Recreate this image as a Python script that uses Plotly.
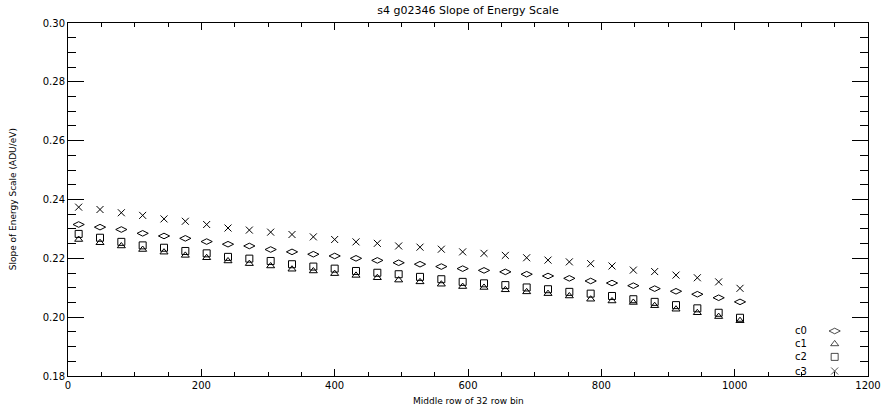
import plotly.graph_objects as go

# Middle row of each 32 row bin
rows = [16 + 32 * k for k in range(32)]

# Slope of energy scale (ADU/eV) per node
c0 = [0.2315, 0.2306, 0.2298, 0.2285, 0.2276, 0.2268, 0.2257, 0.2248,
      0.2242, 0.2230, 0.2222, 0.2214, 0.2208, 0.2200, 0.2193, 0.2185,
      0.2180, 0.2172, 0.2165, 0.2159, 0.2154, 0.2146, 0.2140, 0.2132,
      0.2123, 0.2116, 0.2107, 0.2097, 0.2088, 0.2078, 0.2066, 0.2052]
c1 = [0.2264, 0.2253, 0.2242, 0.2230, 0.2221, 0.2210, 0.2202, 0.2191,
      0.2182, 0.2174, 0.2163, 0.2157, 0.2148, 0.2142, 0.2134, 0.2126,
      0.2120, 0.2112, 0.2104, 0.2101, 0.2093, 0.2086, 0.2080, 0.2072,
      0.2061, 0.2055, 0.2050, 0.2039, 0.2027, 0.2015, 0.2002, 0.1988]
c2 = [0.2283, 0.2270, 0.2256, 0.2244, 0.2236, 0.2225, 0.2217, 0.2205,
      0.2199, 0.2191, 0.2180, 0.2172, 0.2165, 0.2157, 0.2151, 0.2146,
      0.2137, 0.2129, 0.2120, 0.2115, 0.2109, 0.2101, 0.2095, 0.2086,
      0.2080, 0.2072, 0.2061, 0.2052, 0.2041, 0.2030, 0.2015, 0.1998]
c3 = [0.2374, 0.2366, 0.2355, 0.2346, 0.2334, 0.2326, 0.2315, 0.2303,
      0.2296, 0.2289, 0.2281, 0.2273, 0.2264, 0.2256, 0.2251, 0.2242,
      0.2238, 0.2231, 0.2222, 0.2217, 0.2210, 0.2202, 0.2194, 0.2188,
      0.2182, 0.2174, 0.2160, 0.2155, 0.2143, 0.2134, 0.2120, 0.2098]

# hand-drawn legend in the lower right (data coords, like the IDL original)
legend_names = ["c0", "c1", "c2", "c3"]
legend_x = 1150
legend_text_x = 1100
legend_y = [0.1953, 0.1909, 0.1865, 0.1817]

symbols = ["diamond-wide-open", "triangle-up-open", "square-open", "x-thin-open"]
sizes = [8, 7, 7, 7]
series = [c0, c1, c2, c3]

font = "DejaVu Sans"

fig = go.Figure()

# draw c1 first so the squares sit on top of the triangles
for i in [1, 2, 0, 3]:
    fig.add_trace(
        go.Scatter(
            x=rows,
            y=series[i],
            mode="markers",
            name=legend_names[i],
            marker=dict(
                symbol=symbols[i],
                size=sizes[i],
                color="black",
                line=dict(color="black", width=1),
            ),
            showlegend=False,
        )
    )

fig.add_trace(
    go.Scatter(
        x=[legend_x] * len(legend_y),
        y=legend_y,
        mode="markers",
        marker=dict(
            symbol=symbols,
            size=sizes,
            color="black",
            line=dict(color="black", width=1),
        ),
        cliponaxis=False,
        showlegend=False,
    )
)

annotations = []
for name, yv in zip(legend_names, legend_y):
    annotations.append(
        dict(x=legend_text_x, y=yv, xref="x", yref="y", text=name,
             showarrow=False, font=dict(family=font, size=10, color="black"))
    )

annotations.append(
    dict(x=0.5, y=-0.052, xref="paper", yref="paper", yanchor="top",
         text="Middle row of 32 row bin", showarrow=False,
         font=dict(family=font, size=9, color="black"))
)
annotations.append(
    dict(x=-0.069, y=0.5, xref="paper", yref="paper", xanchor="center",
         text="Slope of Energy Scale (ADU/eV)", textangle=-90, showarrow=False,
         font=dict(family=font, size=9, color="black"))
)

axis_common = dict(
    showgrid=False,
    zeroline=False,
    showline=True,
    linecolor="black",
    linewidth=1,
    mirror="allticks",
    ticks="inside",
    tickcolor="black",
    tickwidth=1,
    tickfont=dict(family=font, size=10, color="black"),
)

fig.update_layout(
    width=893,
    height=409,
    margin=dict(l=68, r=17, t=23, b=33),
    paper_bgcolor="white",
    plot_bgcolor="white",
    title=dict(
        text="s4 g02346 Slope of Energy Scale",
        x=0.5, xref="paper",
        y=0.975, yref="container", yanchor="middle",
        font=dict(family=font, size=11, color="black"),
    ),
    xaxis=dict(
        range=[0, 1200],
        dtick=200,
        ticklen=7,
        minor=dict(dtick=50, ticklen=4, ticks="inside", tickcolor="black"),
        **axis_common,
    ),
    yaxis=dict(
        range=[0.18, 0.30],
        dtick=0.02,
        tickformat=".2f",
        ticklen=16,
        minor=dict(dtick=0.005, ticklen=8, ticks="inside", tickcolor="black"),
        **axis_common,
    ),
    annotations=annotations,
)

# the page body has a default 8px margin; drop it so the figure fills the window
fig.write_html(
    "out.html",
    config={"displayModeBar": False},
    post_script="document.body.style.margin='0';",
)
